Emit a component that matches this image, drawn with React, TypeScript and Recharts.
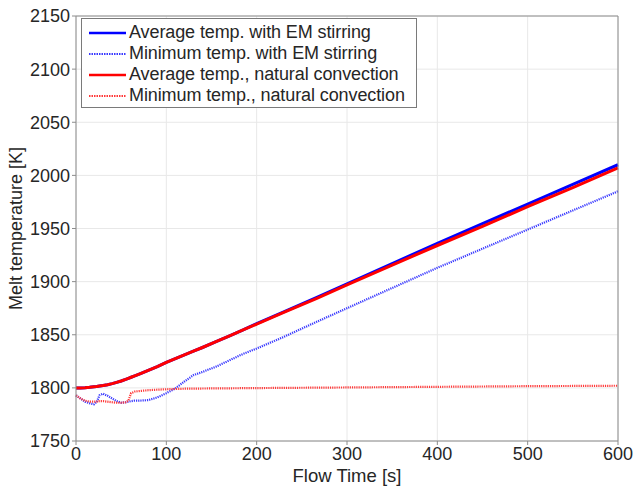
import React from 'react'
import { LineChart, Line, XAxis, YAxis, CartesianGrid } from 'recharts'

const times = [0, 5, 10, 15, 20, 23, 26, 30, 35, 40, 45, 50, 55, 58, 61, 65, 70, 80, 90, 100, 110, 120, 130, 140, 155, 170, 185, 200, 230, 266, 300, 350, 400, 450, 500, 550, 600]

const avgEM = [1800, 1800, 1800.2, 1800.5, 1801, 1801.3, 1801.7, 1802.2, 1803, 1804, 1805.2, 1806.5, 1808, 1809, 1810, 1811.3, 1813, 1816.5, 1820, 1824, 1827.5, 1831, 1834.5, 1838, 1843.5, 1849, 1854.5, 1860.5, 1871.5, 1885, 1898, 1917, 1936, 1954.5, 1973, 1991.5, 2010]
const minEM = [1793, 1790, 1787, 1785.5, 1784.5, 1787, 1793, 1794.5, 1792.5, 1790, 1787.5, 1786, 1786.5, 1787, 1787.5, 1788, 1788, 1788.5, 1791, 1795, 1799.5, 1806, 1812, 1815, 1820, 1826, 1832, 1837, 1848, 1862, 1875, 1894, 1913, 1931, 1949, 1967, 1985]
const avgNC = [1800, 1800, 1800.2, 1800.5, 1801, 1801.3, 1801.7, 1802.2, 1803, 1804, 1805.2, 1806.5, 1808, 1809, 1810, 1811.3, 1813, 1816.5, 1820, 1824, 1827.5, 1831, 1834.5, 1838, 1843.5, 1849, 1854.5, 1860, 1871, 1884, 1897, 1915.5, 1934, 1952, 1970.5, 1988.5, 2007]
const minNC = [1793, 1790, 1788, 1787, 1787, 1787, 1787.5, 1787.5, 1787, 1786.5, 1786, 1786, 1786.5, 1788, 1795, 1796.5, 1797, 1797.8, 1798.3, 1798.7, 1799, 1799.2, 1799.3, 1799.4, 1799.5, 1799.6, 1799.7, 1799.8, 1800, 1800.2, 1800.4, 1800.7, 1801, 1801.3, 1801.6, 1801.8, 1802]

const xTicks = [0, 100, 200, 300, 400, 500, 600]
const yTicks = [1750, 1800, 1850, 1900, 1950, 2000, 2050, 2100, 2150]

const seriesNames = [
  'Average temp. with EM stirring',
  'Minimum temp. with EM stirring',
  'Average temp., natural convection',
  'Minimum temp., natural convection',
]

const data = times.map((t, i) => ({
  t,
  avgEM: avgEM[i],
  minEM: minEM[i],
  avgNC: avgNC[i],
  minNC: minNC[i],
}))

const font = '"Liberation Sans", Arial, sans-serif'
const textColor = '#262626'
const axisColor = '#8c8c8c'

const legendItems = [
  { name: seriesNames[0], color: '#0000ff', dashed: false },
  { name: seriesNames[1], color: '#3a3aff', dashed: true },
  { name: seriesNames[2], color: '#ff0000', dashed: false },
  { name: seriesNames[3], color: '#ff3a3a', dashed: true },
]

// matlab-style legend box, drawn over the plot
const LegendBox = () => (
  <div style={{
    position: 'absolute', left: 81, top: 18, background: '#fff', border: '1px solid #7a7a7a',
    width: 336, height: 90, padding: '3px 0 0 0', fontFamily: font, fontSize: 18, color: textColor,
    boxSizing: 'border-box',
  }}>
    {legendItems.map(it => (
      <div key={it.name} style={{ display: 'flex', alignItems: 'center', height: 21 }}>
        <svg width={47} height={10} style={{ flex: 'none' }}>
          <line x1={7} x2={44} y1={5} y2={5} stroke={it.color}
            strokeWidth={it.dashed ? 2 : 2.5} strokeDasharray={it.dashed ? '1.5 1' : undefined} />
        </svg>
        <span style={{ whiteSpace: 'nowrap', letterSpacing: -0.1 }}>{it.name}</span>
      </div>
    ))}
  </div>
)

export default function App() {
  return (
    <div style={{ position: 'absolute', left: 0, top: 0, width: 635, height: 490, background: '#fff' }}>
      <LineChart width={635} height={490} data={data} margin={{ top: 15, right: 16, bottom: 4, left: 26 }}>
        <CartesianGrid stroke="#e8e8e8" strokeWidth={1} />
        <XAxis dataKey="t" type="number" domain={[0, 600]} ticks={xTicks} interval={0}
          tick={{ fill: textColor, fontSize: 18, fontFamily: font }} tickLine={{ stroke: axisColor }}
          axisLine={{ stroke: axisColor }} height={45} tickSize={4}
          label={{ value: 'Flow Time [s]', position: 'insideBottom', offset: 4, fill: textColor, fontSize: 18.5, fontFamily: font }} />
        <XAxis xAxisId="top" dataKey="t" type="number" domain={[0, 600]} orientation="top" ticks={xTicks}
          tick={false} axisLine={{ stroke: axisColor }} tickLine={false} height={1} />
        <YAxis type="number" domain={[1750, 2150]} ticks={yTicks} interval={0} width={50}
          tick={{ fill: textColor, fontSize: 18, fontFamily: font }} tickLine={{ stroke: axisColor }}
          axisLine={{ stroke: axisColor }} tickSize={4}
          label={{ value: 'Melt temperature [K]', angle: -90, position: 'insideLeft', offset: -10, fill: textColor, fontSize: 18, fontFamily: font, style: { textAnchor: 'middle' } }} />
        <YAxis yAxisId="right" type="number" domain={[1750, 2150]} orientation="right" ticks={yTicks}
          tick={false} axisLine={{ stroke: axisColor }} tickLine={false} width={1} />
        <Line dataKey="avgEM" name={seriesNames[0]} type="linear" stroke="#0000ff" strokeWidth={3} dot={false} isAnimationActive={false} />
        <Line dataKey="minEM" name={seriesNames[1]} type="linear" stroke="#3a3aff" strokeWidth={2.2} strokeDasharray="1.2 1" dot={false} isAnimationActive={false} />
        <Line dataKey="avgNC" name={seriesNames[2]} type="linear" stroke="#ff0000" strokeWidth={3} dot={false} isAnimationActive={false} />
        <Line dataKey="minNC" name={seriesNames[3]} type="linear" stroke="#ff3a3a" strokeWidth={2.2} strokeDasharray="1.2 1" dot={false} isAnimationActive={false} />
      </LineChart>
      <LegendBox />
    </div>
  )
}
